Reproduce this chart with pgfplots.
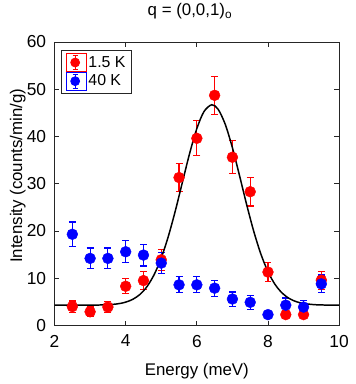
\documentclass[border=0pt]{standalone}
\usepackage{fontspec}
\setmainfont{Liberation Sans}
\usepackage{pgfplots}
\pgfplotsset{compat=1.18}
\definecolor{ptred}{HTML}{FF0000}
\definecolor{ptblue}{HTML}{0000FF}
\definecolor{axgray}{HTML}{262626}

\begin{document}
\begin{tikzpicture}
\begin{axis}[
    scale only axis,
    width=287pt, height=286pt,
    xmin=2, xmax=10, ymin=0, ymax=60,
    xtick={2,4,...,10}, ytick={0,10,...,60},
    tick align=inside, major tick length=5pt,
    axis line style={line width=0.8pt, color=axgray},
    tick style={line width=0.8pt, color=axgray},
    font=\fontsize{17}{20}\selectfont,
    /pgf/number format/assume math mode=true,
    ticklabel style={font=\fontsize{17.5}{20}\selectfont},
    xticklabel style={yshift=-6pt},
    yticklabel style={xshift=-5pt},
    title={q = (0,0,1)\textsubscript{o}},
    title style={at={([xshift=-7pt,yshift=25pt]axis description cs:0.5,1)}, anchor=center},
    xlabel={Energy (meV)},
    xlabel style={at={([yshift=-46pt]axis description cs:0.5,0)}, anchor=center},
    ylabel={Intensity (counts/min/g)},
    ylabel style={at={([xshift=-37pt,yshift=8pt]axis description cs:0,0.5)}, anchor=center},
    legend style={at={([xshift=7pt,yshift=-8pt]axis description cs:0,1)}, anchor=north west,
        font=\fontsize{16}{19}\selectfont, draw=axgray, line width=0.8pt,
        row sep=0pt, inner xsep=4pt, inner ysep=3pt},
    legend cell align=left,
    error bars/y dir=both, error bars/y explicit,
]
\addplot[only marks, mark=*, mark size=5.5pt, color=ptred,
    error bars/error bar style={line width=1.2pt, ptred},
    error bars/error mark options={rotate=90, line width=1.2pt, mark size=3.5pt, ptred},
    legend image code/.code={
        \path (0pt,-9pt) rectangle (20pt,9pt);
        \draw[ptred, line width=1.2pt] (9pt,-7pt) -- (9pt,7pt);
        \draw[ptred, line width=1.2pt] (6.5pt,-7pt) -- (11.5pt,-7pt);
        \draw[ptred, line width=1.2pt] (6.5pt,7pt) -- (11.5pt,7pt);
        \fill[ptred] (9pt,0pt) circle (4.5pt);
    }]
coordinates {
    (2.5,4.0) +- (0,1.2)
    (3.0,2.9) +- (0,1.0)
    (3.5,3.9) +- (0,1.2)
    (4.0,8.3) +- (0,1.6)
    (4.5,9.5) +- (0,1.9)
    (5.0,13.9) +- (0,2.2)
    (5.5,31.3) +- (0,3.0)
    (6.0,39.6) +- (0,3.7)
    (6.5,48.7) +- (0,4.0)
    (7.0,35.6) +- (0,3.5)
    (7.5,28.3) +- (0,3.0)
    (8.0,11.3) +- (0,2.0)
    (8.5,2.3) +- (0,0.8)
    (9.0,2.3) +- (0,0.8)
    (9.5,9.6) +- (0,1.9)
};
\addlegendentry{1.5 K}
\addplot[only marks, mark=*, mark size=5.5pt, color=ptblue,
    error bars/error bar style={line width=1.2pt, ptblue},
    error bars/error mark options={rotate=90, line width=1.2pt, mark size=3.5pt, ptblue},
    legend image code/.code={
        \path (0pt,-9pt) rectangle (20pt,9pt);
        \draw[ptblue, line width=1.2pt] (9pt,-7pt) -- (9pt,7pt);
        \draw[ptblue, line width=1.2pt] (6.5pt,-7pt) -- (11.5pt,-7pt);
        \draw[ptblue, line width=1.2pt] (6.5pt,7pt) -- (11.5pt,7pt);
        \fill[ptblue] (9pt,0pt) circle (4.5pt);
    }]
coordinates {
    (2.5,19.3) +- (0,2.6)
    (3.0,14.2) +- (0,2.2)
    (3.5,14.2) +- (0,2.2)
    (4.0,15.6) +- (0,2.3)
    (4.5,14.9) +- (0,2.3)
    (5.0,13.2) +- (0,2.2)
    (5.5,8.6) +- (0,1.7)
    (6.0,8.6) +- (0,1.7)
    (6.5,7.9) +- (0,1.7)
    (7.0,5.6) +- (0,1.5)
    (7.5,4.9) +- (0,1.5)
    (8.0,2.3) +- (0,0.8)
    (8.5,4.3) +- (0,1.5)
    (9.0,3.9) +- (0,1.4)
    (9.5,8.8) +- (0,1.9)
};
\addlegendentry{40 K}
\addplot[black, line width=1.5pt, smooth, forget plot, error bars/y dir=none] coordinates {
    (2.0,4.30) (3.0,4.31) (3.5,4.39) (3.8,4.61) (4.0,4.94) (4.2,5.54)
    (4.4,6.57) (4.6,8.24) (4.8,10.76) (5.0,14.29) (5.2,18.89) (5.4,24.40)
    (5.6,30.48) (5.8,36.48) (6.0,41.66) (6.2,45.25) (6.42,46.70) (6.6,45.73)
    (6.8,42.53) (7.0,37.61) (7.2,31.71) (7.4,25.59) (7.6,19.92) (7.8,15.12)
    (8.0,11.38) (8.2,8.67) (8.4,6.85) (8.6,5.70) (8.8,5.03) (9.0,4.66)
    (9.3,4.41) (9.6,4.33) (10.0,4.30)
};
\end{axis}
\path[use as bounding box] (-55pt,-59pt) rectangle (304pt,325pt);
\end{tikzpicture}
\end{document}
